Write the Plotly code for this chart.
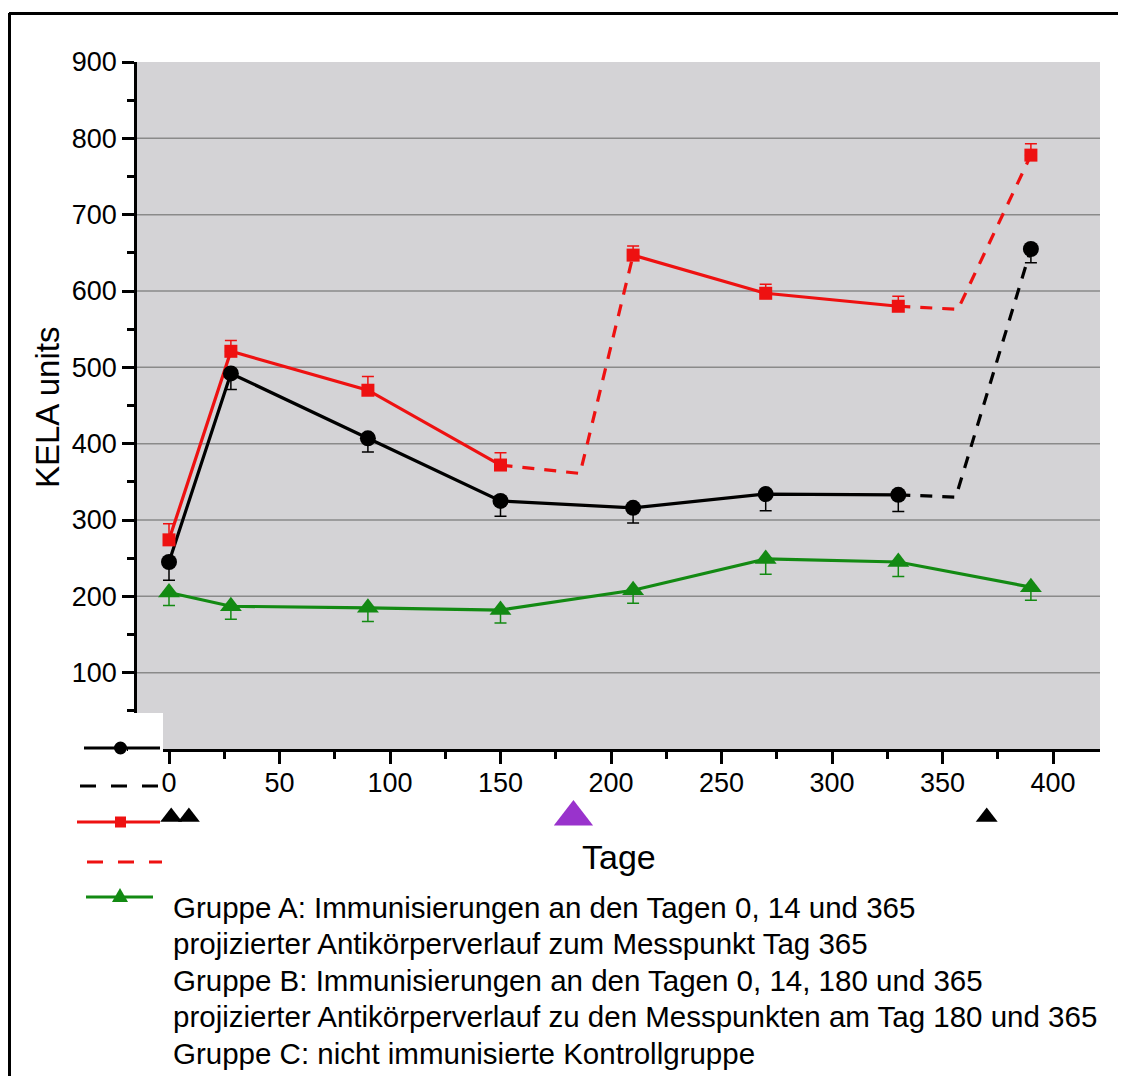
import plotly.graph_objects as go

# ---------------- data ----------------
days = [0, 28, 90, 150, 210, 270, 330, 390]

group_a = [245, 492, 407, 325, 316, 334, 333, 655]
group_a_err_down = [24, 21, 18, 20, 20, 22, 22, 18]

group_b = [274, 521, 470, 372, 647, 597, 580, 778]
group_b_err_up = [21, 14, 18, 16, 12, 12, 13, 15]

group_c = [205, 187, 185, 182, 208, 249, 245, 212]
group_c_err_down = [17, 17, 18, 17, 17, 20, 19, 17]

# projected courses (dashed)
proj_a_days = [330, 356, 390]
proj_a_vals = [333, 330, 655]
proj_b1_days = [150, 186, 210]
proj_b1_vals = [372, 361, 647]
proj_b2_days = [330, 357, 390]
proj_b2_vals = [580, 576, 778]

# immunisation markers below the axis
immun_days_black = [1, 9, 370]
immun_days_purple = [183]

x_ticks = [0, 50, 100, 150, 200, 250, 300, 350, 400]
y_ticks = [100, 200, 300, 400, 500, 600, 700, 800, 900]
grid_vals = [100, 200, 300, 400, 500, 600, 700, 800]

legend_texts = [
    "Gruppe A: Immunisierungen an den Tagen 0, 14 und 365",
    "projizierter Antikörperverlauf zum Messpunkt Tag 365",
    "Gruppe B: Immunisierungen an den Tagen 0, 14, 180 und 365",
    "projizierter Antikörperverlauf zu den Messpunkten am Tag 180 und 365",
    "Gruppe C: nicht immunisierte Kontrollgruppe",
]

# ---------------- styling ----------------
OFF = 8                      # page body margin
W, H = 1126, 1076
L, R, T, B = 137, 1100, 62, 749   # plot area in page pixels
FONT = "Liberation Sans, Arial, sans-serif"
BLACK = "#000000"
RED = "#ee1111"
GREEN = "#138a13"
PURPLE = "#9933cc"
PLOTBG = "#d4d3d6"
LW = 3.2
DASH = "12px,10px"


def X(x):
    return (x - OFF) / W


def Y(y):
    return 1 - (y - OFF) / H


fig = go.Figure()

# solid / dashed lines
fig.add_trace(go.Scatter(x=days[:7], y=group_a[:7], mode="lines",
                         line=dict(color=BLACK, width=LW)))
fig.add_trace(go.Scatter(x=proj_a_days, y=proj_a_vals, mode="lines",
                         line=dict(color=BLACK, width=LW, dash=DASH)))
fig.add_trace(go.Scatter(x=days[:4], y=group_b[:4], mode="lines",
                         line=dict(color=RED, width=LW)))
fig.add_trace(go.Scatter(x=days[4:7], y=group_b[4:7], mode="lines",
                         line=dict(color=RED, width=LW)))
fig.add_trace(go.Scatter(x=proj_b1_days, y=proj_b1_vals, mode="lines",
                         line=dict(color=RED, width=LW, dash=DASH)))
fig.add_trace(go.Scatter(x=proj_b2_days, y=proj_b2_vals, mode="lines",
                         line=dict(color=RED, width=LW, dash=DASH)))
fig.add_trace(go.Scatter(x=days, y=group_c, mode="lines",
                         line=dict(color=GREEN, width=LW)))

# markers + error bars
fig.add_trace(go.Scatter(
    x=days, y=group_a, mode="markers",
    marker=dict(symbol="circle", size=16, color=BLACK),
    error_y=dict(type="data", symmetric=False, array=[0] * len(days),
                 arrayminus=group_a_err_down, color=BLACK, thickness=1.5, width=6)))
fig.add_trace(go.Scatter(
    x=days, y=group_b, mode="markers",
    marker=dict(symbol="square", size=13, color=RED),
    error_y=dict(type="data", symmetric=False, array=group_b_err_up,
                 arrayminus=[0] * len(days), color=RED, thickness=1.5, width=6)))
fig.add_trace(go.Scatter(
    x=days, y=group_c, mode="markers",
    marker=dict(symbol="triangle-up", size=19, color=GREEN),
    error_y=dict(type="data", symmetric=False, array=[0] * len(days),
                 arrayminus=group_c_err_down, color=GREEN, thickness=1.5, width=6)))

# immunisation markers (separate strip below the axis, sharing the day scale)
fig.add_trace(go.Scatter(
    x=immun_days_black, y=[0.5] * len(immun_days_black), mode="markers",
    marker=dict(symbol="triangle-up", size=19, color=BLACK),
    xaxis="x2", yaxis="y2", cliponaxis=False))
fig.add_trace(go.Scatter(
    x=immun_days_purple, y=[0.5] * len(immun_days_purple), mode="markers",
    marker=dict(symbol="triangle-up", size=34, color=PURPLE),
    xaxis="x2", yaxis="y2", cliponaxis=False))

shapes = []
# plot background
shapes.append(dict(type="rect", xref="paper", yref="paper",
                   x0=X(L), x1=X(R), y0=Y(B), y1=Y(T),
                   fillcolor=PLOTBG, line=dict(width=0), layer="below"))
# gridlines
for g in grid_vals:
    shapes.append(dict(type="line", xref="paper", yref="y", x0=X(L), x1=X(R), y0=g, y1=g,
                       line=dict(color="#8a8a8a", width=1.5), layer="below"))

# white legend box overlapping the plot corner
shapes.append(dict(type="rect", xref="paper", yref="paper",
                   x0=X(128), x1=X(163), y0=Y(753), y1=Y(713),
                   fillcolor="white", line=dict(width=0), layer="above"))

# outer frame (top and left)
shapes.append(dict(type="line", xref="paper", yref="paper",
                   x0=X(9), x1=X(1140), y0=Y(13.5), y1=Y(13.5),
                   line=dict(color=BLACK, width=3), layer="above"))
shapes.append(dict(type="line", xref="paper", yref="paper",
                   x0=X(9.5), x1=X(9.5), y0=Y(13), y1=Y(1090),
                   line=dict(color=BLACK, width=3), layer="above"))


def hline(x0, x1, y, color, dash=None):
    ln = dict(color=color, width=LW)
    if dash:
        ln["dash"] = dash
    shapes.append(dict(type="line", xref="paper", yref="paper",
                       x0=X(x0), x1=X(x1), y0=Y(y), y1=Y(y), line=ln, layer="above"))


# legend samples
hline(84, 160, 748, BLACK)
shapes.append(dict(type="circle", xref="paper", yref="paper",
                   x0=X(114), x1=X(127), y0=Y(754.5), y1=Y(741.5),
                   fillcolor=BLACK, line=dict(width=0), layer="above"))
hline(80, 160, 786, BLACK, "16px,15px")
hline(77, 160, 822, RED)
shapes.append(dict(type="rect", xref="paper", yref="paper",
                   x0=X(115), x1=X(126), y0=Y(827.5), y1=Y(816.5),
                   fillcolor=RED, line=dict(width=0), layer="above"))
hline(87, 162, 862, RED, "16px,15px")
hline(86, 153, 897, GREEN)
tri = "M {},{} L {},{} L {},{} Z".format(X(112), Y(902), X(128), Y(902), X(120), Y(888))
shapes.append(dict(type="path", xref="paper", yref="paper", path=tri,
                   fillcolor=GREEN, line=dict(width=0), layer="above"))

annotations = []
ys = [907, 943, 980, 1016, 1053]
for t, yy in zip(legend_texts, ys):
    annotations.append(dict(text=t, xref="paper", yref="paper", x=X(171), y=Y(yy),
                            xanchor="left", yanchor="middle", showarrow=False,
                            font=dict(family=FONT, size=29.5, color=BLACK)))
annotations.append(dict(text="Tage", xref="paper", yref="paper", x=X(619), y=Y(857),
                        xanchor="center", yanchor="middle", showarrow=False,
                        font=dict(family=FONT, size=34, color=BLACK)))
annotations.append(dict(text="KELA units", xref="paper", yref="paper", x=X(47), y=Y(408),
                        xanchor="center", yanchor="middle", showarrow=False, textangle=-90,
                        font=dict(family=FONT, size=33, color=BLACK)))

fig.update_layout(
    width=W, height=H,
    margin=dict(l=0, r=0, t=0, b=0, pad=0, autoexpand=False),
    paper_bgcolor="white",
    plot_bgcolor="rgba(0,0,0,0)",
    font=dict(family=FONT, color=BLACK),
    shapes=shapes,
    annotations=annotations,
    showlegend=False,
)

x0v = (L - 169) / 2.21
x1v = (R - 169) / 2.21
fig.update_layout(
    xaxis=dict(domain=[X(L), X(R)], anchor="y", range=[x0v, x1v], tickvals=x_ticks,
               ticks="outside", ticklen=12, tickwidth=2.5, tickcolor=BLACK,
               showline=True, linecolor=BLACK, linewidth=2.5,
               showgrid=False, zeroline=False, automargin=False, ticklabelstandoff=-4,
               tickfont=dict(family=FONT, size=27, color=BLACK),
               minor=dict(ticks="outside", ticklen=7, tickwidth=2.5, tickcolor=BLACK,
                          dtick=25, tick0=0, showgrid=False)),
    yaxis=dict(domain=[Y(B), Y(T)], anchor="x", range=[0, 900], tickvals=y_ticks,
               ticks="outside", ticklen=12, tickwidth=2.5, tickcolor=BLACK,
               showline=True, linecolor=BLACK, linewidth=2.5,
               showgrid=False, zeroline=False, automargin=False,
               tickfont=dict(family=FONT, size=27, color=BLACK),
               minor=dict(ticks="outside", ticklen=7, tickwidth=2.5, tickcolor=BLACK,
                          dtick=50, tick0=0, showgrid=False)),
    xaxis2=dict(domain=[X(L), X(R)], anchor="y2", matches="x", visible=False),
    yaxis2=dict(domain=[Y(836), Y(798)], anchor="x2", range=[0, 1], visible=False),
)

fig.write_html("out.html")
